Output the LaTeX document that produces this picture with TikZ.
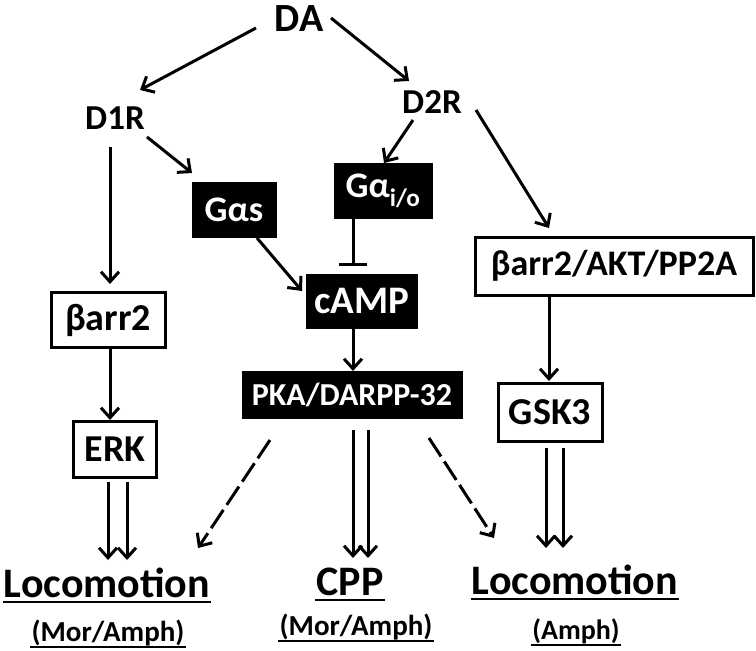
\documentclass[tikz,border=0pt]{standalone}
\usepackage{fontspec}
\setmainfont{Carlito}
\usetikzlibrary{arrows.meta,calc}
\begin{document}
\begin{tikzpicture}[x=1pt,y=-1pt,
  fs/.style={font=\fontsize{#1}{#1}\selectfont\bfseries},
  bbox/.style={fill=black,draw=black,text=white,inner sep=0pt},
  wbox/.style={draw=black,line width=3pt,inner sep=0pt},
  lbl/.style={inner sep=0pt,anchor=base},
  arr/.style={-{Straight Barb[length=10pt,width=18pt]},line width=3pt},
  darr/.style={arr,dash pattern=on 22pt off 6pt},
  inh/.style={-{Bar[width=28pt]},line width=3pt},
  uline/.style={line width=2.5pt}]
\useasboundingbox (0,0) rectangle (756,651);
% nodes
\node[fs=40] (DA) at (299,19) {DA};
\node[fs=35] (D1R) at (115,118) {D1R};
\node[fs=35] (D2R) at (432,102) {D2R};
\node[bbox,fs=36,minimum width=84pt,minimum height=55pt] (Gas) at (234,210) {Gαs};
\node[bbox,fs=36,minimum width=98pt,minimum height=55pt] (Gio) at (383,191) {Gα\textsubscript{i/o}};
\node[bbox,fs=39,minimum width=111pt,minimum height=54pt] (cAMP) at (362,301) {cAMP};
\node[bbox,fs=32,minimum width=220pt,minimum height=47pt] (PKA) at (352,395) {PKA/DARPP-32};
\node[wbox,fs=38,minimum width=114pt,minimum height=55pt] (barr) at (108,320) {βarr2};
\node[wbox,fs=38,minimum width=83pt,minimum height=56pt] (ERK) at (115,449) {ERK};
\node[wbox,fs=36,minimum width=278pt,minimum height=58pt] (bAKT) at (614,266) {βarr2/AKT/PP2A};
\node[wbox,fs=38,minimum width=104pt,minimum height=58pt] (GSK) at (550,412) {GSK3};
\node[lbl,fs=42] (Loc1) at (107,597) {Locomotion};
\node[lbl,fs=29] (Mor1) at (108,641) {(Mor/Amph)};
\node[lbl,fs=42] (CPP) at (350,595) {CPP};
\node[lbl,fs=29] (Mor2) at (356,635) {(Mor/Amph)};
\node[lbl,fs=42] (Loc2) at (575,594) {Locomotion};
\node[lbl,fs=28] (Amph) at (576,639) {(Amph)};
% underlines
\foreach \n/\d in {Loc1/5,CPP/5,Loc2/5,Mor1/6,Mor2/6,Amph/6}
  \draw[uline] ($(\n.base west)+(-1,\d)$) -- ($(\n.base east)+(1,\d)$);
% connectors
\draw[arr] ($(DA)+(-43,9)$) -- ($(D1R)+(25,-28)$);
\draw[arr] ($(DA)+(32,-1)$) -- ($(D2R)+(-23,-21)$);
\draw[arr] ($(D1R)+(32,19)$) -- ($(Gas)+(-42,-37)$);
\draw[arr] ($(D1R)+(-5,29)$) -- ($(barr)+(2,-36)$);
\draw[arr] ($(D2R)+(-19,18)$) -- ($(Gio)+(1,-28)$);
\draw[arr] ($(D2R)+(44,8)$) -- ($(bAKT)+(-65,-38)$);
\draw[arr] ($(Gas)+(23,28)$) -- ($(cAMP)+(-60,-10)$);
\draw[inh] ($(Gio)+(-30,28)$) -- ($(cAMP)+(-9,-35)$);
\draw[arr] ($(cAMP)+(-9,27)$) -- ($(PKA)+(1,-24)$);
\draw[arr] ($(barr)+(2,28)$) -- ($(ERK)+(-5,-29)$);
\draw[arr] ($(bAKT)+(-65,29)$) -- ($(GSK)+(-1,-31)$);
\draw[arr] ($(ERK)+(-7,33)$) -- ($(Loc1.base)+(1,-37)$);
\draw[arr] ($(ERK)+(12,33)$) -- ($(Loc1.base)+(20,-37)$);
\draw[arr] ($(PKA)+(1,35)$) -- ($(CPP.base)+(3,-37)$);
\draw[arr] ($(PKA)+(16,35)$) -- ($(CPP.base)+(18,-37)$);
\draw[arr] ($(GSK)+(-4,36)$) -- ($(Loc2.base)+(-29,-46)$);
\draw[arr] ($(GSK)+(13,36)$) -- ($(Loc2.base)+(-12,-46)$);
\draw[darr] ($(PKA)+(-82,45)$) -- ($(Loc1.base)+(91,-49)$);
\draw[darr] ($(PKA)+(77,43)$) -- ($(Loc2.base)+(-81,-56)$);
\end{tikzpicture}
\end{document}
